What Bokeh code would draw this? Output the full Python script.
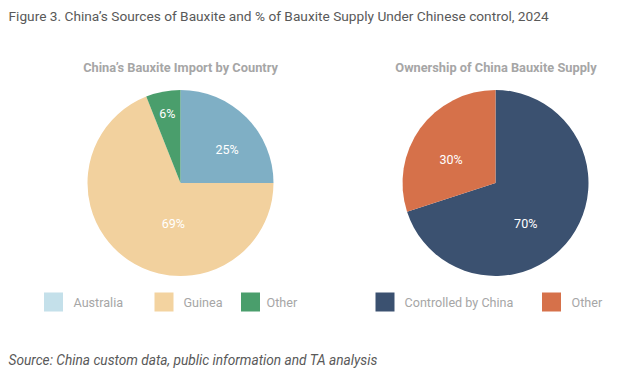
import numpy as np
from bokeh.plotting import figure
from bokeh.models import Range1d
from bokeh.core.properties import value
from bokeh.embed import file_html
from bokeh.resources import INLINE

# ---------------- data ----------------
title_text = "Figure 3. China\u2019s Sources of Bauxite and % of Bauxite Supply Under Chinese control, 2024"
source_text = "Source: China custom data, public information and TA analysis"

pie1_title = "China\u2019s Bauxite Import by Country"
pie1_labels = ["Australia", "Guinea", "Other"]
pie1_values = [25, 69, 6]
pie1_colors = ["#7FAFC5", "#F2D19E", "#4A9E6C"]
pie1_legend_colors = ["#C4E0EA", "#F3D3A0", "#4A9E6C"]

pie2_title = "Ownership of China Bauxite Supply"
pie2_labels = ["Controlled by China", "Other"]
pie2_values = [70, 30]
pie2_colors = ["#3B5170", "#D6714A"]
pie2_legend_colors = ["#3B5170", "#D6714A"]

# label placement style (radius fraction, angular nudge in degrees clockwise)
pie1_label_r = [0.62, 0.44, 0.76]
pie1_label_nudge = [9, -24, 0]
pie2_label_r = [0.54, 0.54]
pie2_label_nudge = [17, -8]

# ---------------- layout ----------------
W, H = 616, 368
FONT = "Roboto"
p = figure(width=W, height=H, x_range=Range1d(0, W), y_range=Range1d(-H, 0),
           output_backend="svg", toolbar_location=None, min_border=0)
p.axis.visible = False
p.grid.visible = False
p.outline_line_color = None
p.background_fill_color = "white"
p.border_fill_color = "white"

R = 93
centers = [(180, -182.5), (495, -182.5)]


def draw_pie(cx, cy, vals, colors, lab_r, nudge):
    vals = np.array(vals, dtype=float)
    frac = vals / vals.sum()
    cum = np.concatenate([[0], np.cumsum(frac)]) * 360.0  # clockwise from top
    a0 = cum[:-1]
    a1 = cum[1:]
    start = np.radians(90 - a1)
    end = np.radians(90 - a0)
    p.wedge(x=[cx] * len(vals), y=[cy] * len(vals), radius=R, start_angle=start, end_angle=end,
            fill_color=colors, line_color=None)
    mid = (a0 + a1) / 2 + np.array(nudge)
    lr = np.array(lab_r) * R
    lx = cx + lr * np.sin(np.radians(mid))
    ly = cy + lr * np.cos(np.radians(mid))
    txt = [f"{int(v)}%" for v in vals]
    p.text(x=lx, y=ly, text=txt, text_color="white", text_font=value(FONT),
           text_font_size="12.5px", text_align="center", text_baseline="middle")


draw_pie(*centers[0], pie1_values, pie1_colors, pie1_label_r, pie1_label_nudge)
draw_pie(*centers[1], pie2_values, pie2_colors, pie2_label_r, pie2_label_nudge)

# titles
p.text(x=[8], y=[-15], text=[title_text], text_color="#595959", text_font=value(FONT),
       text_font_size="13.7px", text_align="left", text_baseline="middle")
p.text(x=[180, 495.5], y=[-67, -67], text=[pie1_title, pie2_title],
       text_color="#A6A6A6", text_font=value(FONT), text_font_style="bold",
       text_font_size="12.8px", text_align="center", text_baseline="middle")

# legends
leg_y = -301.5
leg_sq_x = [53, 163.5, 250, 384.5, 551]
leg_txt_x = [73, 183, 266, 404, 571]
leg_names = pie1_labels + pie2_labels
leg_cols = pie1_legend_colors + pie2_legend_colors
p.rect(x=leg_sq_x, y=[leg_y] * len(leg_sq_x), width=19, height=19, width_units="screen",
       height_units="screen", fill_color=leg_cols, line_color=None)
p.text(x=leg_txt_x, y=[leg_y] * len(leg_sq_x), text=leg_names,
       text_color="#A6A6A6", text_font=value(FONT), text_font_size="12.6px",
       text_align="left", text_baseline="middle")

# source
p.text(x=[8], y=[-359], text=[source_text], text_color="#595959", text_font=value(FONT),
       text_font_style="italic", text_font_size="13.7px", text_align="left", text_baseline="middle")

open("out.html", "w").write(file_html(p, INLINE))
